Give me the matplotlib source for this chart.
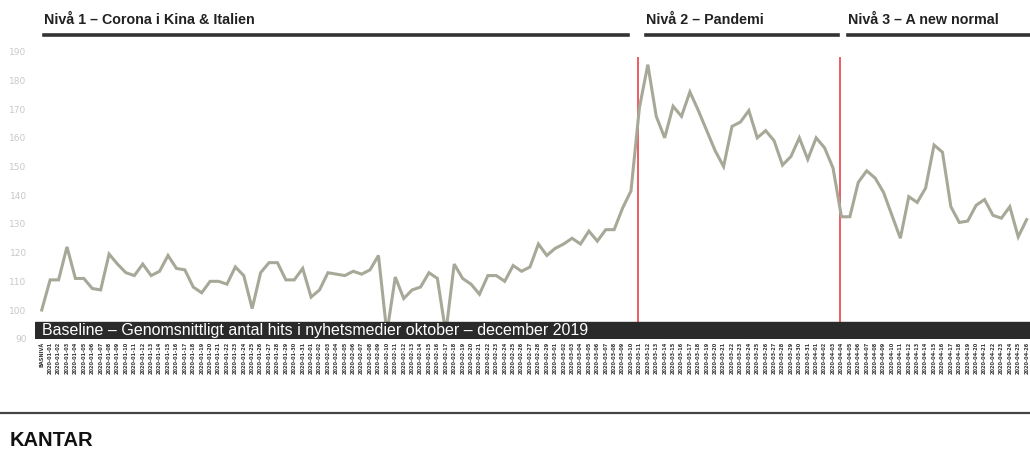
import numpy as np
import pandas as pd
import matplotlib
matplotlib.use("Agg")
import matplotlib.pyplot as plt
from matplotlib.lines import Line2D

# Index of news-media hits (baseline okt-dec 2019 = 100)
nivå1 = [100, 110.5, 110.5, 122, 111, 111, 107.5, 107, 119.5, 116,
         113, 112, 116, 112, 113.5, 119, 114.5, 114, 108, 106,
         110, 110, 109, 115, 112, 100.5, 113, 116.5, 116.5, 110.5,
         110.5, 114.5, 104.5, 107, 113, 112.5, 112, 113.5, 112.5, 114,
         119, 92, 111.5, 104, 107, 108, 113, 111, 92, 116,
         111, 109, 105.5, 112, 112, 110, 115.5, 113.5, 115, 123,
         119, 121.5, 123, 125, 123, 127.5, 124, 128, 128, 135.5,
         141.5]
nivå2 = [170.5, 185.5, 167.5, 160, 171, 167.5, 176, 169.5, 162.5, 155.5,
         150, 164, 165.5, 169.5, 160, 162.5, 159, 150.5, 153.5, 160,
         152.5, 160, 156.5, 149.5]
nivå3 = [132.5, 132.5, 144.5, 148.5, 146, 141, 133, 125, 139.5, 137.5,
         142.5, 157.5, 155, 136, 130.5, 131, 136.5, 138.5, 133, 132,
         136, 125.5, 131.5]

values = nivå1 + nivå2 + nivå3
dates = pd.date_range("2020-01-01", periods=len(values) - 1, freq="D")
labels = ["BASNIVÅ"] + [d.strftime("%Y-%m-%d") for d in dates]
phase_starts = [len(nivå1), len(nivå1) + len(nivå2)]

headers = ["Nivå 1 – Corona i Kina & Italien", "Nivå 2 – Pandemi", "Nivå 3 – A new normal"]
baseline_text = "Baseline – Genomsnittligt antal hits i nyhetsmedier oktober – december 2019"

W, H = 1030, 457
fig = plt.figure(figsize=(W / 100, H / 100), dpi=100)
ax = fig.add_axes([35 / W, 1 - 339 / H, 995 / W, 293 / H])

x = np.arange(len(values))
ax.plot(x, values, color="#a8a898", lw=2.2, solid_joinstyle="miter", zorder=2)

bar_top = 95.8
for p in phase_starts:
    ax.vlines(p - 0.15, bar_top, 188, color="#e8303a", lw=1.1, zorder=1)

ax.axhspan(89.9, bar_top, color="#2a2a2a", zorder=3)
ax.text(0.0, 92.7, baseline_text, color="white", fontsize=11.5,
        family="Liberation Sans", va="center", ha="left", zorder=4)

ax.set_xlim(-0.8, 117.4)
ax.set_ylim(89.9, 192)
ax.set_yticks(np.arange(90, 191, 10))
ax.tick_params(axis="y", length=0, labelsize=6.5, labelcolor="#c8c8c8", pad=6)
ax.set_xticks(x)
ax.set_xticklabels(labels, rotation=90, fontsize=3.6, fontweight="bold", color="#333333")
ax.tick_params(axis="x", length=0, pad=2)
for s in ax.spines.values():
    s.set_visible(False)

# phase headers with thick rules
spans = [(44, 628), (646, 838), (848, 1030)]
for (x0, x1), txt in zip(spans, headers):
    fig.text(x0 / W, 1 - 20 / H, txt, fontsize=10.3, fontweight="bold",
             family="Liberation Sans", color="#222222", va="center", ha="left")
    fig.add_artist(Line2D([x0 / W, x1 / W], [1 - 35 / H, 1 - 35 / H],
                          color="#333333", lw=2.6))

# footer
fig.add_artist(Line2D([0, 1], [1 - 413 / H, 1 - 413 / H], color="#444444", lw=1.6))
fig.text(10 / W, 1 - 440 / H, "KANTAR", fontsize=14.5, fontweight="bold",
         family="Liberation Sans", color="#111111", va="center", ha="left")

fig.savefig("out.png", dpi=100)
